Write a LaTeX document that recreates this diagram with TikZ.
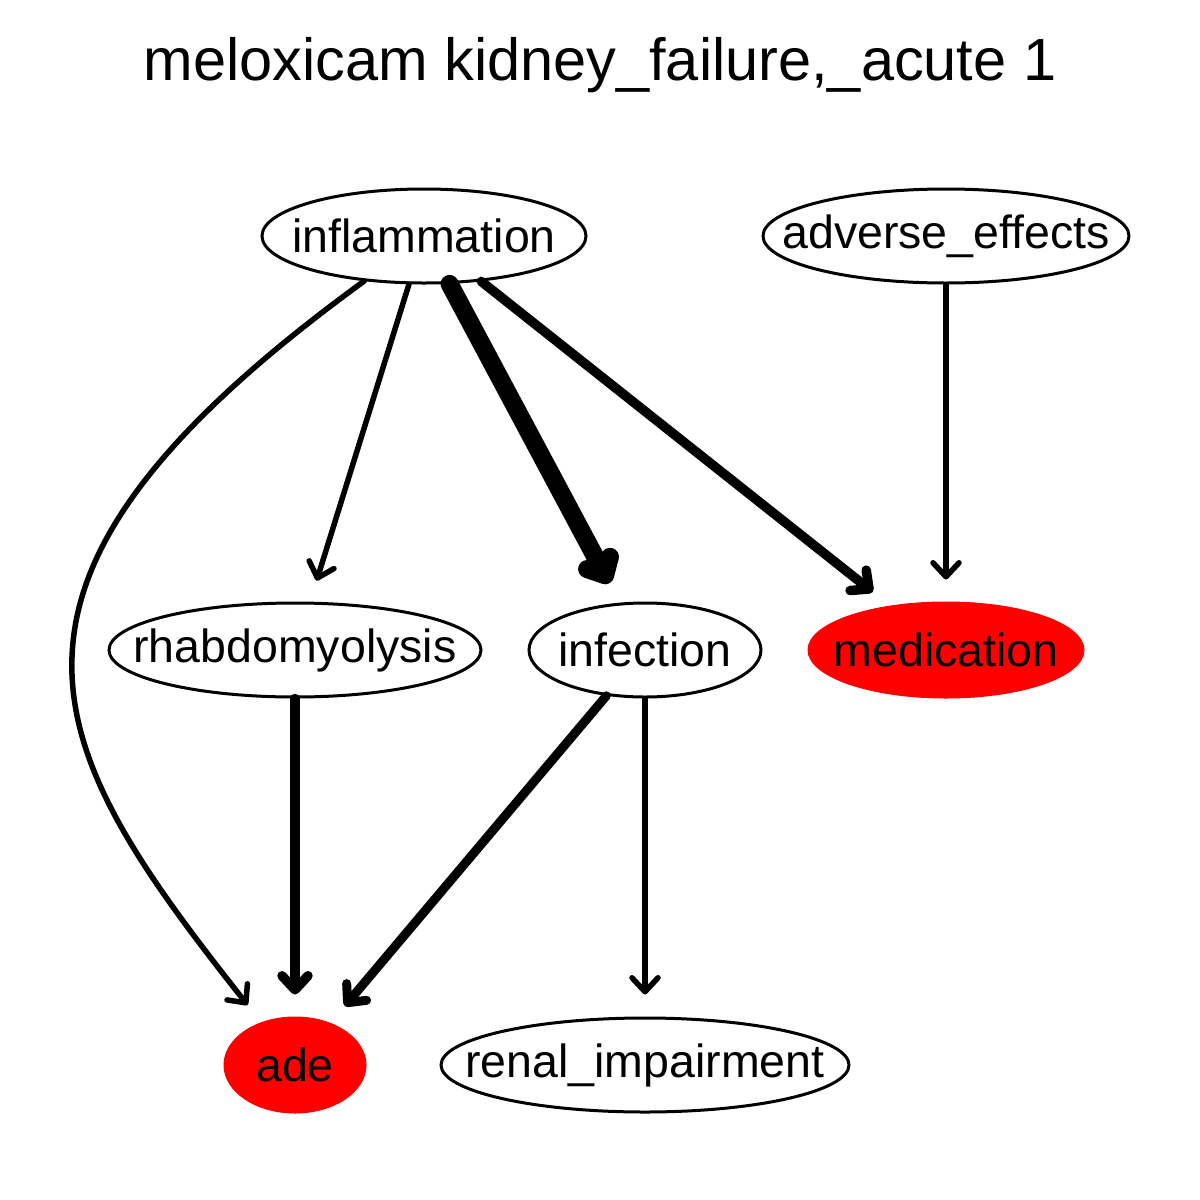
\documentclass[tikz,border=0pt]{standalone}
\usepackage{fontspec}
\setmainfont{Liberation Sans}
\usetikzlibrary{shapes.geometric,arrows.meta}
\tikzset{
  nd/.style={ellipse, draw=black, line width=3pt, inner sep=0pt},
  rednd/.style={ellipse, fill=red, draw=red, line width=1pt, inner sep=0pt},
  lbl/.style={font=\fontsize{46.5}{48}\selectfont},
  arr/.style={-{Straight Barb[round,length=14pt,width=26pt]}, line cap=round, shorten >=22pt},
}
\begin{document}
\begin{tikzpicture}[x=1pt,y=-1pt]
\useasboundingbox[fill=white] (0,0) rectangle (1200,1200);
\node[font=\fontsize{59.5}{62}\selectfont] (title) at (600,65) {meloxicam kidney\_failure,\_acute 1};

\node[nd, minimum width=324pt, minimum height=94pt, label={[lbl]center:inflammation}] (infl) at (424,236) {};
\node[nd, minimum width=366pt, minimum height=94pt, label={[lbl]center:adverse\_effects}] (adv) at (946,236) {};
\node[nd, minimum width=372pt, minimum height=94pt, label={[lbl]center:rhabdomyolysis}] (rhab) at (295,650) {};
\node[nd, minimum width=232pt, minimum height=94pt, label={[lbl]center:infection}] (inf) at (645,650) {};
\node[rednd, minimum width=276pt, minimum height=96pt, label={[lbl]center:medication}] (med) at (946,650) {};
\node[rednd, minimum width=142pt, minimum height=96pt, label={[lbl]center:ade}] (ade) at (295,1065) {};
\node[nd, minimum width=408pt, minimum height=94pt, label={[lbl]center:renal\_impairment}] (ren) at (645,1065) {};

\draw[arr, line width=5.5pt] (infl.217) .. controls (-54,585) and (43,746) .. (ade);
\draw[arr, line width=5.5pt] (infl) -- (rhab);
\draw[arr, line width=18pt] (infl) -- (inf);
\draw[arr, line width=9.5pt] (infl) -- (med);
\draw[arr, line width=5.5pt] (adv) -- (med);
\draw[arr, line width=9.5pt] (rhab) -- (ade);
\draw[arr, line width=9pt] (inf) -- (ade);
\draw[arr, line width=5.5pt] (inf) -- (ren);
\end{tikzpicture}
\end{document}
